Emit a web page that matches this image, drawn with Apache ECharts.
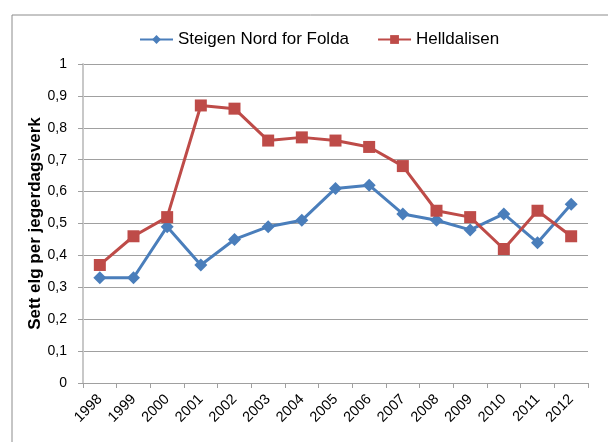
<!DOCTYPE html>
<html><head><meta charset="utf-8">
<script src="https://cdn.jsdelivr.net/npm/echarts@6/dist/echarts.min.js"></script>
<style>html,body{margin:0;padding:0;background:#fff}#c{width:608px;height:442px}</style>
</head><body><div id="c"></div>
<script>
const categories = ['1998','1999','2000','2001','2002','2003','2004','2005','2006','2007','2008','2009','2010','2011','2012'];
const steigen = [0.33,0.33,0.49,0.37,0.45,0.49,0.51,0.61,0.62,0.53,0.51,0.48,0.53,0.44,0.56];
const helldalisen = [0.37,0.46,0.52,0.87,0.86,0.76,0.77,0.76,0.74,0.68,0.54,0.52,0.42,0.54,0.46];
const seriesNames = ['Steigen Nord for Folda','Helldalisen'];
const yAxisName = 'Sett elg per jegerdagsverk';

const chart = echarts.init(document.getElementById('c'), null, {renderer:'canvas'});
chart.setOption({
  animation:false,
  backgroundColor:'#fff',
  graphic:[{type:'rect',shape:{x:12,y:15,width:700,height:600},style:{fill:'none',stroke:'#8c8c8c',lineWidth:1},silent:true}],
  legend:{
    top:26, left:134, itemGap:28, itemWidth:33, itemHeight:11,
    textStyle:{fontFamily:'Liberation Sans, Arial',fontSize:17,color:'#000'},
    data:seriesNames
  },
  grid:{left:83,right:20,top:64,bottom:59,containLabel:false},
  xAxis:{
    type:'category', data:categories, boundaryGap:true,
    axisLine:{lineStyle:{color:'#a0a0a0'}},
    axisTick:{show:true,length:5,lineStyle:{color:'#a0a0a0'}},
    axisLabel:{rotate:45,fontFamily:'Liberation Sans, Arial',fontSize:14.5,color:'#000',margin:14,interval:0}
  },
  yAxis:{
    type:'value', min:0, max:1, interval:0.1,
    name:yAxisName, nameLocation:'middle', nameGap:39, nameMoveOverlap:false,
    nameTextStyle:{fontFamily:'Liberation Sans, Arial',fontSize:17,fontWeight:'bold',color:'#000'},
    axisLine:{show:true,lineStyle:{color:'#c8c8c8',width:2}},
    axisTick:{show:true,length:5,lineStyle:{color:'#a0a0a0'}},
    axisLabel:{fontFamily:'Liberation Sans, Arial',fontSize:14,color:'#000',margin:16,
      formatter:v=>String(Math.round(v*10)/10).replace('.',',')},
    splitLine:{lineStyle:{color:'#a0a0a0'}}
  },
  series:[
    {name:seriesNames[0],type:'line',data:steigen,symbol:'diamond',symbolSize:13,
     lineStyle:{color:'#4a7ebb',width:3},itemStyle:{color:'#4a7ebb'}},
    {name:seriesNames[1],type:'line',data:helldalisen,symbol:'rect',symbolSize:12,
     lineStyle:{color:'#be4b48',width:3},itemStyle:{color:'#be4b48'}}
  ]
});
</script></body></html>
